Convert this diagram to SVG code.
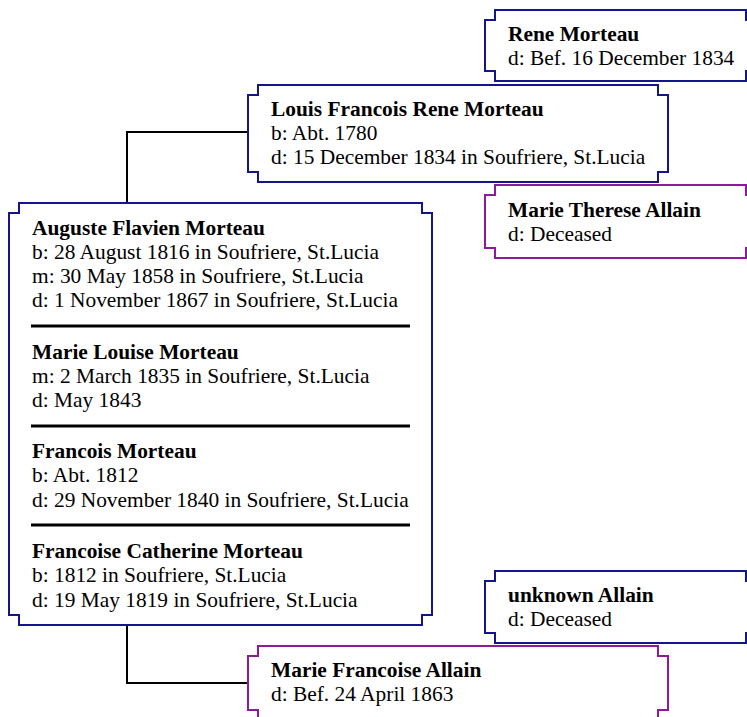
<svg xmlns="http://www.w3.org/2000/svg" width="747" height="717" viewBox="0 0 747 717">
<style>
.box{fill:#ffffff;stroke-width:2}
.m{stroke:#14148c}
.f{stroke:#8c1a9a}
text{font-family:"Liberation Serif","Times New Roman",serif;font-size:21.4px;fill:#000}
.b{font-weight:bold}
.sep{stroke:#000;stroke-width:3}
.con{fill:none;stroke:#000;stroke-width:2}
</style>
<rect width="747" height="717" fill="#ffffff"/>
<g id="connectors">
<path class="con" d="M127,203 V132 H248"/>
<path class="con" d="M127,625 V683 H248"/>
</g>
<g id="auguste">
<path class="box m" d="M19,203 H422 V213 H432 V615 H422 V625 H19 V615 H9 V213 H19 Z"/>
<text x="32" y="235" class="b">Auguste Flavien Morteau</text>
<text x="32" y="259">b: 28 August 1816 in Soufriere, St.Lucia</text>
<text x="32" y="283">m: 30 May 1858 in Soufriere, St.Lucia</text>
<text x="32" y="307">d: 1 November 1867 in Soufriere, St.Lucia</text>
<line class="sep" x1="31" y1="326" x2="410" y2="326"/>
<text x="32" y="359" class="b">Marie Louise Morteau</text>
<text x="32" y="383">m: 2 March 1835 in Soufriere, St.Lucia</text>
<text x="32" y="407">d: May 1843</text>
<line class="sep" x1="31" y1="426" x2="410" y2="426"/>
<text x="32" y="458" class="b">Francois Morteau</text>
<text x="32" y="482">b: Abt. 1812</text>
<text x="32" y="507">d: 29 November 1840 in Soufriere, St.Lucia</text>
<line class="sep" x1="31" y1="525" x2="410" y2="525"/>
<text x="32" y="558" class="b">Francoise Catherine Morteau</text>
<text x="32" y="582">b: 1812 in Soufriere, St.Lucia</text>
<text x="32" y="607">d: 19 May 1819 in Soufriere, St.Lucia</text>
</g>
<g id="louis">
<path class="box m" d="M258,85 H658 V95 H668 V172 H658 V182 H258 V172 H248 V95 H258 Z"/>
<text x="271" y="116" class="b">Louis Francois Rene Morteau</text>
<text x="271" y="140">b: Abt. 1780</text>
<text x="271" y="164">d: 15 December 1834 in Soufriere, St.Lucia</text>
</g>
<g id="rene">
<path class="box m" d="M495,10 H746 V20 H756 V71 H746 V81 H495 V71 H485 V20 H495 Z"/>
<text x="508" y="41" class="b">Rene Morteau</text>
<text x="508" y="65">d: Bef. 16 December 1834</text>
</g>
<g id="marie-therese">
<path class="box f" d="M495,185 H746 V195 H756 V248 H746 V258 H495 V248 H485 V195 H495 Z"/>
<text x="508" y="217" class="b">Marie Therese Allain</text>
<text x="508" y="241">d: Deceased</text>
</g>
<g id="unknown-allain">
<path class="box m" d="M495,571 H746 V581 H756 V633 H746 V643 H495 V633 H485 V581 H495 Z"/>
<text x="508" y="602" class="b">unknown Allain</text>
<text x="508" y="626">d: Deceased</text>
</g>
<g id="marie-francoise">
<path class="box f" d="M258,646 H658 V656 H668 V710 H658 V720 H258 V710 H248 V656 H258 Z"/>
<text x="271" y="677" class="b">Marie Francoise Allain</text>
<text x="271" y="701">d: Bef. 24 April 1863</text>
</g>
</svg>
